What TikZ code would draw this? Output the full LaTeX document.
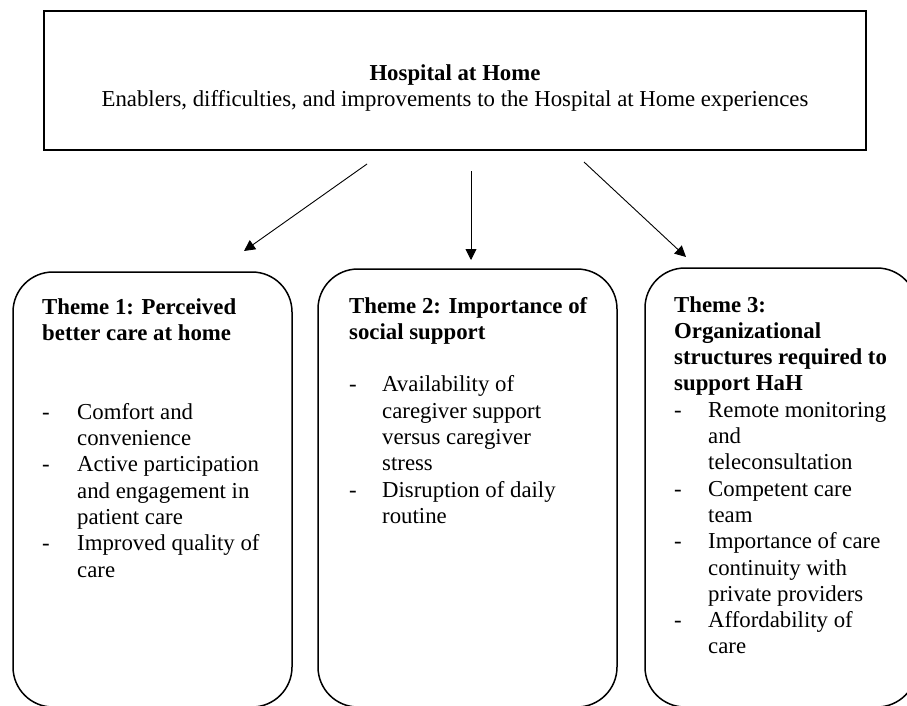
\documentclass[tikz,border=0pt]{standalone}
\usepackage{fontspec}
\setmainfont{Liberation Serif}
\usetikzlibrary{arrows.meta}
\newcommand{\dashitem}[2][34pt]{\makebox[#1][l]{-}#2}
\newcommand{\contline}[2][34pt]{\hspace*{#1}#2}
\begin{document}
\begin{tikzpicture}[x=1pt,y=-1pt,
  txt/.style={inner sep=0pt, font=\fontsize{22.8}{26.3}\selectfont},
  topbox/.style={draw=black, line width=1.8pt, inner sep=0pt},
  themebox/.style={draw=black, line width=1.5pt, rounded corners=40pt, inner sep=0pt},
  link/.style={draw=black, line width=0.9pt, -{Triangle[length=11pt,width=11pt]}}]
\useasboundingbox (0,0) rectangle (907,706);
\clip (0,0) rectangle (907,706);
\fill[white] (0,0) rectangle (907,706);

% top box
\node[topbox, minimum width=822pt, minimum height=139pt] (top) at (455,80.5) {};
\node[txt, anchor=base] (title) at (455,81) {\textbf{Hospital at Home}};
\node[txt, anchor=base] (subtitle) at (455,107) {Enablers, difficulties, and improvements to the Hospital at Home experiences};

% theme boxes
\node[themebox, minimum width=279pt, minimum height=435pt] (t1) at (152.5,489.5) {};
\node[themebox, minimum width=299pt, minimum height=438pt] (t2) at (467.5,488) {};
\node[themebox, minimum width=272pt, minimum height=439pt] (t3) at (781,487.5) {};

% theme texts
\node[txt, anchor=base west] (t1text) at (42,314) {\parbox[t]{250pt}{\raggedright
\textbf{Theme 1: Perceived}\\
\textbf{better care at home}\\[52.6pt]
\dashitem[35pt]{Comfort and}\\
\contline[35pt]{convenience}\\
\dashitem[35pt]{Active participation}\\
\contline[35pt]{and engagement in}\\
\contline[35pt]{patient care}\\
\dashitem[35pt]{Improved quality of}\\
\contline[35pt]{care}}};

\node[txt, anchor=base west] (t2text) at (349,313) {\parbox[t]{265pt}{\raggedright
\textbf{Theme 2: Importance of}\\
\textbf{social support}\\[26.3pt]
\dashitem[33pt]{Availability of}\\
\contline[33pt]{caregiver support}\\
\contline[33pt]{versus caregiver}\\
\contline[33pt]{stress}\\
\dashitem[33pt]{Disruption of daily}\\
\contline[33pt]{routine}}};

\node[txt, anchor=base west] (t3text) at (674,312) {\parbox[t]{230pt}{\raggedright
\textbf{Theme 3:}\\
\textbf{Organizational}\\
\textbf{structures required to}\\
\textbf{support HaH}\\
\dashitem{Remote monitoring}\\
\contline{and}\\
\contline{teleconsultation}\\
\dashitem{Competent care}\\
\contline{team}\\
\dashitem{Importance of care}\\
\contline{continuity with}\\
\contline{private providers}\\
\dashitem{Affordability of}\\
\contline{care}}};

% connectors
\coordinate (a1s) at (367,164);
\coordinate (a1e) at (244,251);
\coordinate (a2s) at (471,171);
\coordinate (a2e) at (471,260);
\coordinate (a3s) at (584,162);
\coordinate (a3e) at (686,257);
\draw[link] (a1s) -- (a1e);
\draw[link] (a2s) -- (a2e);
\draw[link] (a3s) -- (a3e);
\end{tikzpicture}
\end{document}
